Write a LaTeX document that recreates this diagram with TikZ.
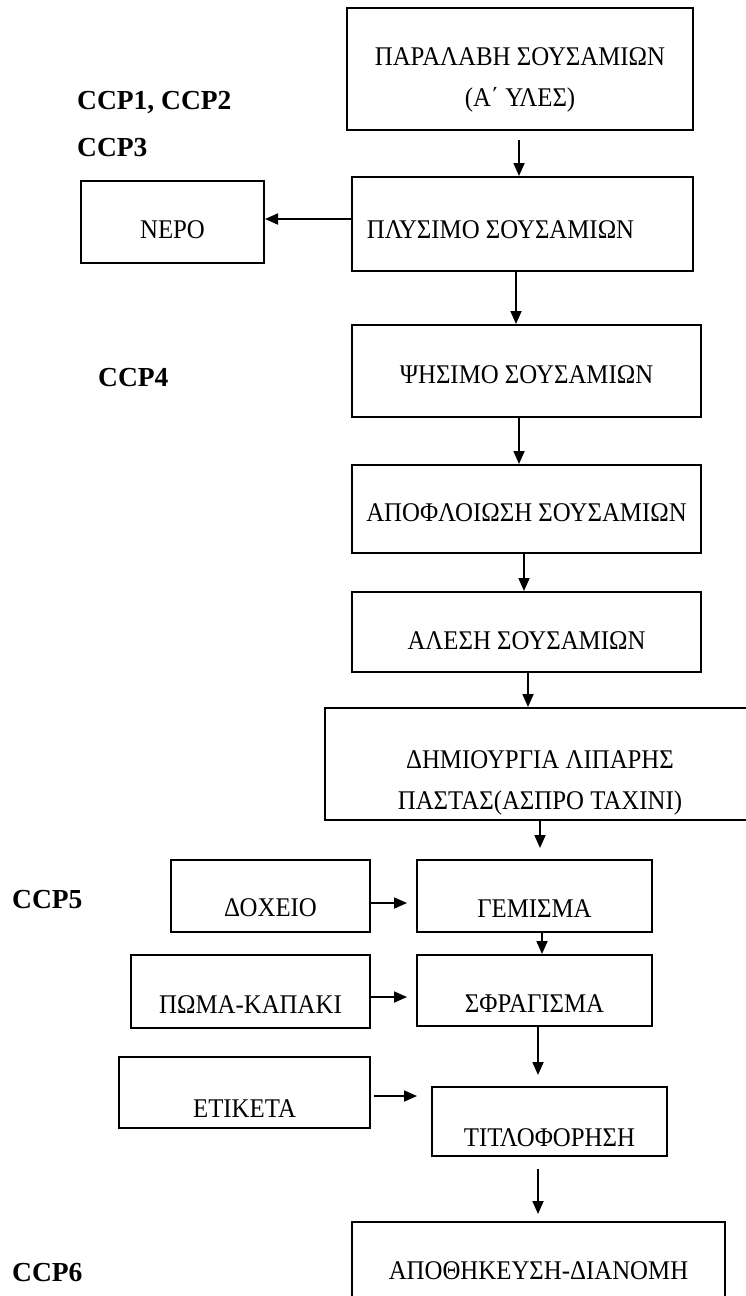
\documentclass[tikz,border=0pt]{standalone}
\usepackage{fontspec}
\setmainfont{Liberation Serif}
\newfontfamily\boxfont[FakeStretch=0.92]{Liberation Serif}
\usetikzlibrary{arrows.meta}
\newcommand\pushdn[1]{\rule{0pt}{#1pt}}
\tikzset{
  box/.style={draw, line width=2pt, inner sep=0pt, align=center,
    font=\boxfont\fontsize{27}{41}\selectfont},
  ccp/.style={anchor=west, inner sep=0pt, font=\fontsize{27.5}{30}\selectfont\bfseries},
  arr/.style={line width=1.8pt, -{Triangle[length=13pt,width=11pt]}}
}
\begin{document}
\begin{tikzpicture}[x=1pt,y=-1pt]
\useasboundingbox (0,0) rectangle (746,1296);
% main column
\node[box, minimum width=346pt, minimum height=122pt] (b1) at (520,69)
  {\pushdn{40}ΠΑΡΑΛΑΒΗ ΣΟΥΣΑΜΙΩΝ\\(Α΄ ΥΛΕΣ)};
\node[box, minimum width=341pt, minimum height=94pt] (b2) at (522.5,224)
  {\pushdn{30}ΠΛΥΣΙΜΟ ΣΟΥΣΑΜΙΩΝ\hspace*{44pt}};
\node[box, minimum width=183pt, minimum height=82pt] (nero) at (172.5,222)
  {\pushdn{34}ΝΕΡΟ};
\node[box, minimum width=349pt, minimum height=92pt] (b3) at (526.5,371)
  {\pushdn{26}ΨΗΣΙΜΟ ΣΟΥΣΑΜΙΩΝ};
\node[box, minimum width=349pt, minimum height=88pt] (b4) at (526.5,509)
  {\pushdn{26}ΑΠΟΦΛΟΙΩΣΗ ΣΟΥΣΑΜΙΩΝ};
\node[box, minimum width=349pt, minimum height=80pt] (b5) at (526.5,632)
  {\pushdn{36}ΑΛΕΣΗ ΣΟΥΣΑΜΙΩΝ};
\node[box, minimum width=430pt, minimum height=112pt] (b6) at (540,764)
  {\pushdn{56}ΔΗΜΙΟΥΡΓΙΑ ΛΙΠΑΡΗΣ\\ΠΑΣΤΑΣ(ΑΣΠΡΟ ΤΑΧΙΝΙ)};
\node[box, minimum width=199pt, minimum height=72pt] (dox) at (270.5,896)
  {\pushdn{42}ΔΟΧΕΙΟ};
\node[box, minimum width=235pt, minimum height=72pt] (gem) at (534.5,896)
  {\pushdn{42}ΓΕΜΙΣΜΑ};
\node[box, minimum width=239pt, minimum height=73pt] (poma) at (250.5,991.5)
  {\pushdn{44}ΠΩΜΑ-ΚΑΠΑΚΙ};
\node[box, minimum width=235pt, minimum height=71pt] (sfr) at (534.5,990.5)
  {\pushdn{44}ΣΦΡΑΓΙΣΜΑ};
\node[box, minimum width=251pt, minimum height=71pt] (etik) at (244.5,1092.5)
  {\pushdn{49}ΕΤΙΚΕΤΑ};
\node[box, minimum width=235pt, minimum height=69pt] (titl) at (549.5,1121.5)
  {\pushdn{51}ΤΙΤΛΟΦΟΡΗΣΗ};
\node[box, minimum width=373pt, minimum height=96pt] (apo) at (538.5,1270)
  {\pushdn{20}ΑΠΟΘΗΚΕΥΣΗ-ΔΙΑΝΟΜΗ};
% CCP labels
\node[ccp] (c12) at (77,102.5) {CCP1, CCP2};
\node[ccp] (c3) at (77,148) {CCP3};
\node[ccp] (c4) at (98,378) {CCP4};
\node[ccp] (c5) at (12,900) {CCP5};
\node[ccp] (c6) at (12,1273) {CCP6};
% connector ends
\coordinate (a1s) at (519,140);
\coordinate (a6e) at (540,848);
\coordinate (adx) at (407,903);
\coordinate (apm) at (407,997);
\coordinate (asf) at (538,1075);
\coordinate (aets) at (374,1096);
\coordinate (aete) at (417,1096);
\coordinate (ats) at (538,1169);
\coordinate (ate) at (538,1214);
% connectors
\draw[arr] (a1s) -- (a1s |- b2.north);
\draw[arr] (b2.west |- 0,219) -- (nero.east |- 0,219);
\draw[arr] (b2.south -| 516,0) -- (b3.north -| 516,0);
\draw[arr] (b3.south -| 519,0) -- (b4.north -| 519,0);
\draw[arr] (b4.south -| 524,0) -- (b5.north -| 524,0);
\draw[arr] (b5.south -| 528,0) -- (b6.north -| 528,0);
\draw[arr] (b6.south -| a6e) -- (a6e);
\draw[arr] (dox.east |- adx) -- (adx);
\draw[arr] (gem.south -| 542,0) -- (sfr.north -| 542,0);
\draw[arr] (poma.east |- apm) -- (apm);
\draw[arr] (sfr.south -| asf) -- (asf);
\draw[arr] (aets) -- (aete);
\draw[arr] (ats) -- (ate);
\end{tikzpicture}
\end{document}
